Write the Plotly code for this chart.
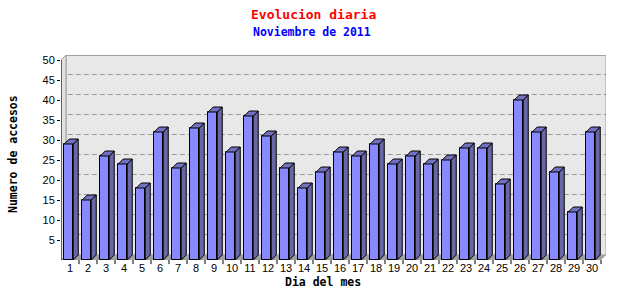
import plotly.graph_objects as go

days = list(range(1, 31))
day_labels = [str(d) for d in days]
visits = [29, 15, 26, 24, 18, 32, 23, 33, 37, 27, 36, 31, 23, 18, 22,
          27, 26, 29, 24, 26, 24, 25, 28, 28, 19, 40, 32, 22, 12, 32]
y_ticks = [5, 10, 15, 20, 25, 30, 35, 40, 45, 50]

title_text = "Evolucion diaria"
subtitle_text = "Noviembre de 2011"
x_title = "Dia del mes"
y_title = "Numero de accesos"

# 3D depth in data units (about 5px each way)
DX = 5 / 18.0
DY = 1.25
OFF = -0.32
BW = 0.5
YMAX = 50
HP = 0.125  # half a pixel in y units, for crisp lines

FRONT = "#8888FF"
SIDE = "#6868A8"
TOP = "#7272C0"

fig = go.Figure()

# front faces
fig.add_trace(go.Bar(x=days, y=visits, width=BW, offset=OFF,
                     marker=dict(color=FRONT, line=dict(color="black", width=1)),
                     hoverinfo="x+y", showlegend=False))

# side faces
sx, sy = [], []
for d, v in zip(days, visits):
    r = d + OFF + BW
    sx += [r, r + DX, r + DX, r, r, None]
    sy += [0, DY, v + DY, v, 0, None]
fig.add_trace(go.Scatter(x=sx, y=sy, mode="lines", fill="toself", fillcolor=SIDE,
                         line=dict(color="black", width=1), hoverinfo="skip",
                         showlegend=False))

# top faces
tx, ty = [], []
for d, v in zip(days, visits):
    l = d + OFF
    r = l + BW
    tx += [l, r, r + DX, l + DX, l, None]
    ty += [v, v, v + DY, v + DY, v, None]
fig.add_trace(go.Scatter(x=tx, y=ty, mode="lines", fill="toself", fillcolor=TOP,
                         line=dict(color="black", width=1), hoverinfo="skip",
                         showlegend=False))

x0 = 0.5
x1 = len(days) + 0.5
shapes = []
# back panel
shapes.append(dict(type="rect", xref="x", yref="y", x0=x0 + DX, x1=x1 + DX,
                   y0=DY, y1=YMAX + DY - HP, fillcolor="#E8E8E8",
                   line=dict(color="#A0A0A0", width=1), layer="below"))
# left wall
shapes.append(dict(type="path", xref="x", yref="y",
                   path=f"M {x0},0 L {x0},{YMAX} L {x0+DX},{YMAX+DY} L {x0+DX},{DY} Z",
                   fillcolor="#E0E0E0", line=dict(color="#A0A0A0", width=1), layer="below"))
# floor
shapes.append(dict(type="path", xref="x", yref="y",
                   path=f"M {x0},0 L {x1},0 L {x1+DX},{DY} L {x0+DX},{DY} Z",
                   fillcolor="#A0A0A0", line=dict(color="#A0A0A0", width=0), layer="below"))
# gridlines on back wall
for t in y_ticks[:-1]:
    shapes.append(dict(type="line", xref="x", yref="y", x0=x0 + DX + 0.1, x1=x1 + DX,
                       y0=t + DY + HP, y1=t + DY + HP,
                       line=dict(color="#999999", width=1, dash="5px,3px"), layer="below"))
# axis lines
shapes.append(dict(type="line", xref="x", yref="y", x0=x0, x1=x0, y0=0, y1=YMAX,
                   line=dict(color="black", width=1)))
shapes.append(dict(type="line", xref="x", yref="y", x0=x0, x1=x0 + DX, y0=YMAX, y1=YMAX + DY,
                   line=dict(color="#A0A0A0", width=1)))
shapes.append(dict(type="line", xref="x", yref="y", x0=x0, x1=x1, y0=-HP, y1=-HP,
                   line=dict(color="black", width=1)))
# x tick marks at slot boundaries
for d in days:
    shapes.append(dict(type="line", xref="x", yref="paper", x0=d + 0.5, x1=d + 0.5,
                       y0=0, y1=-0.02, line=dict(color="black", width=1)))

mono = "DejaVu Sans Mono"
annotations = [
    dict(text=f"<b>{title_text}</b>", x=313, y=14, showarrow=False,
         font=dict(family=mono, size=13, color="#FF0000")),
    dict(text=f"<b>{subtitle_text}</b>", x=312, y=32, showarrow=False,
         font=dict(family=mono, size=11.5, color="#0000FF")),
    dict(text=f"<b>{x_title}</b>", x=323, y=282, showarrow=False,
         font=dict(family=mono, size=11.5, color="black")),
    dict(text=f"<b>{y_title}</b>", x=13, y=154, showarrow=False, textangle=-90,
         font=dict(family=mono, size=11.5, color="black")),
]
# convert pixel positions to paper coords
L, R, T, B = 61, 34, 55, 40
PW, PH = 640 - L - R, 300 - T - B
for a in annotations:
    a["x"] = (a["x"] - L) / PW
    a["y"] = 1 - (a["y"] - T) / PH
    a["xref"] = "paper"
    a["yref"] = "paper"
    a["xanchor"] = "center"
    a["yanchor"] = "middle"

fig.update_layout(
    width=640, height=300,
    margin=dict(l=L, r=R, t=T, b=B),
    paper_bgcolor="white", plot_bgcolor="white",
    shapes=shapes, annotations=annotations,
    bargap=0,
    xaxis=dict(range=[x0, x1 + DX], tickvals=days, ticktext=day_labels,
               showgrid=False, zeroline=False, showline=False, ticks="",
               tickfont=dict(family="Liberation Sans", size=11, color="black"),
               fixedrange=True),
    yaxis=dict(range=[0, YMAX + DY], tickvals=y_ticks, ticks="outside", ticklen=3,
               tickcolor="black", showgrid=False, zeroline=False, showline=False,
               tickfont=dict(family="Liberation Sans", size=11, color="black"),
               fixedrange=True),
)

fig.write_html("out.html")
